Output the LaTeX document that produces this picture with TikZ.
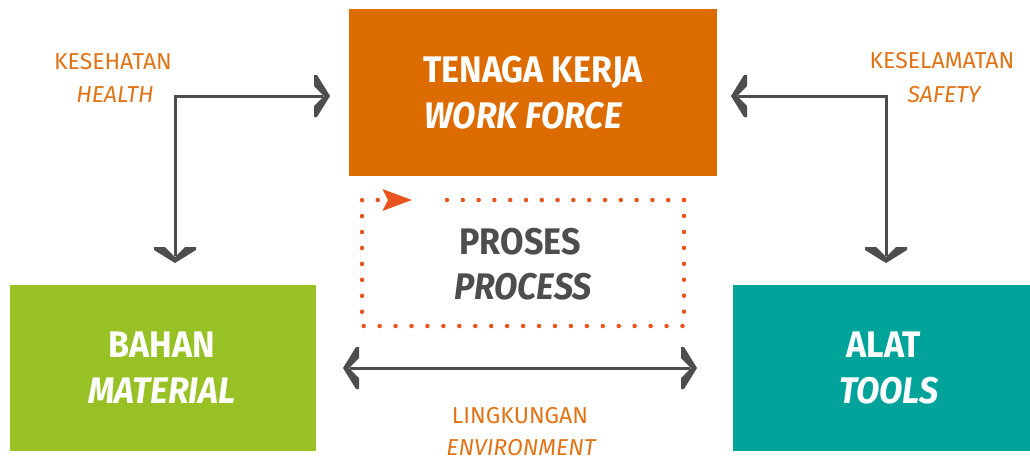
\documentclass[tikz,border=0pt]{standalone}
\usepackage{fontspec}
\setmainfont{Fira Sans}
\newfontfamily\headfont{Fira Sans}[FakeStretch=0.92]
\usetikzlibrary{arrows.meta}

\definecolor{workorange}{HTML}{DD6C00}
\definecolor{matgreen}{HTML}{97C124}
\definecolor{toolteal}{HTML}{00A39A}
\definecolor{labelorange}{HTML}{E07316}
\definecolor{linegrey}{HTML}{4D4D4D}
\definecolor{loopred}{HTML}{E9531D}

% thick chevron tip used on the grey connectors
\pgfdeclarearrow{
  name = Chevron,
  setup code = {
    \pgfarrowssettipend{0pt}
    \pgfarrowssetlineend{-7pt}
    \pgfarrowssetvisualbackend{-16pt}
    \pgfarrowssetbackend{-16pt}
    \pgfarrowshullpoint{0pt}{0pt}
    \pgfarrowshullpoint{-16pt}{21pt}
    \pgfarrowshullpoint{-16pt}{-21pt}
  },
  drawing code = {
    \pgfpathmoveto{\pgfqpoint{0pt}{0pt}}
    \pgfpathlineto{\pgfqpoint{-13pt}{21pt}}
    \pgfpathlineto{\pgfqpoint{-16pt}{21pt}}
    \pgfpathlineto{\pgfqpoint{-16pt}{10pt}}
    \pgfpathlineto{\pgfqpoint{-6pt}{0pt}}
    \pgfpathlineto{\pgfqpoint{-16pt}{-10pt}}
    \pgfpathlineto{\pgfqpoint{-16pt}{-21pt}}
    \pgfpathlineto{\pgfqpoint{-13pt}{-21pt}}
    \pgfpathclose
    \pgfusepathqfill
  }
}

\begin{document}
\begin{tikzpicture}[x=1pt,y=-1pt,
  block/.style={draw=none, inner sep=0pt, outer sep=0pt},
  bigtext/.style={anchor=base, inner sep=0pt, text=white,
    font=\headfont\fontsize{37}{37}\selectfont\bfseries},
  bigital/.style={bigtext, font=\headfont\fontsize{37}{37}\selectfont\bfseries\itshape},
  smalltext/.style={anchor=base, inner sep=0pt, text=labelorange,
    font=\fontsize{23}{23}\selectfont},
  smallital/.style={smalltext, font=\fontsize{23}{23}\selectfont\itshape},
  conn/.style={color=linegrey, line width=3pt, {Chevron}-{Chevron}},
  loopdots/.style={draw=loopred, line width=4.5pt, line cap=round,
    dash pattern=on 0pt off 15.94pt}
]
\useasboundingbox (0,0) rectangle (1030,459);

% coloured blocks
\node[block, fill=workorange, minimum width=368pt, minimum height=167pt] (work) at (533,92.5) {};
\node[block, fill=matgreen, minimum width=306pt, minimum height=166pt] (bahan) at (163,368) {};
\node[block, fill=toolteal, minimum width=297pt, minimum height=166pt] (alat) at (881.5,368) {};

% block captions
\node[bigtext] (work1) at (533,82) {TENAGA KERJA};
\node[bigital] (work2) at (523,128) {WORK FORCE};
\node[bigtext] (bahan1) at (162,357) {BAHAN};
\node[bigital] (bahan2) at (162,403) {MATERIAL};
\node[bigtext] (alat1) at (884,357) {ALAT};
\node[bigital] (alat2) at (889,403) {TOOLS};

% process in the middle
\node[bigtext, text=linegrey] (proc1) at (520,254) {PROSES};
\node[bigital, text=linegrey] (proc2) at (523,299) {PROCESS};

% side labels
\node[smalltext] (health1) at (113,69) {KESEHATAN};
\node[smallital] (health2) at (115,102) {HEALTH};
\node[smalltext] (safety1) at (942,68) {KESELAMATAN};
\node[smallital] (safety2) at (944,102) {SAFETY};
\node[smalltext] (env1) at (520,423) {LINGKUNGAN};
\node[smallital] (env2) at (521,455) {ENVIRONMENT};

% grey connectors
\coordinate (hc) at (175,96);
\coordinate (sc) at (886,96);
\draw[conn, shorten <=19pt, shorten >=22pt] (hc -| work.west) -- (hc) -- (hc |- bahan.north);
\draw[conn, shorten <=14pt, shorten >=22pt] (sc -| work.east) -- (sc) -- (sc |- alat.north);
\draw[conn, shorten <=27pt, shorten >=36pt] (bahan.east) -- (alat.west);

% dotted process loop
\coordinate (ptr) at (684,200);
\coordinate (pbr) at (684,326);
\coordinate (pbl) at (362,326);
\coordinate (ptl) at (362,200);
\coordinate (ptip) at (412,200);
\coordinate (pgap) at (447,200);
\draw[loopdots, -{Stealth[length=29pt, width=21pt, inset=5pt, fill=loopred]}]
  (ptr) -- (pbr) -- (pbl) -- (ptl) -- (ptip);
\draw[loopdots, dash pattern=on 0pt off 15.8pt] (ptr) -- (pgap);
\end{tikzpicture}
\end{document}
